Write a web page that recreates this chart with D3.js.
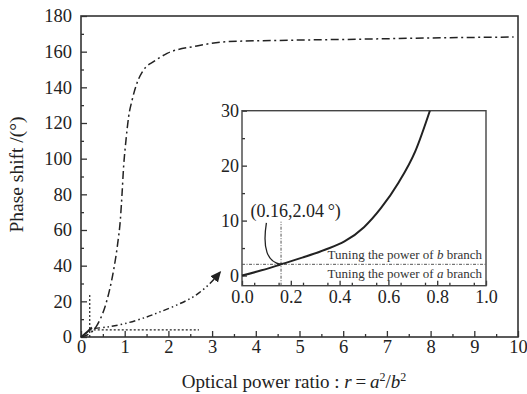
<!DOCTYPE html>
<html lang="en">
<head>
<meta charset="UTF-8">
<title>Phase shift vs optical power ratio</title>
<script src="https://d3js.org/d3.v7.min.js"></script>
<style>
    body { margin: 0; background: #fff; }
    svg { display: block; }
    svg text { font-family: "Liberation Serif", "Times New Roman", serif; }
    .axis text { fill: #222; }
    .axis line { stroke: #333; }
</style>
</head>
<body>
<svg id="vis" width="527" height="394"></svg>
<script>
    // main curve (dash-dot): phase shift against r
    const mainR     = [0, 0.2, 0.34, 0.44, 0.55, 0.65, 0.75, 0.84, 0.9, 0.94, 0.975, 1.03, 1.09, 1.17, 1.28, 1.43, 1.66, 1.97, 2.65, 3.34, 4.5, 6.4, 8, 9.9];
    const mainPhase = [0, 2, 5.5, 10, 17, 26, 38, 52.5, 65.6, 80.6, 95.5, 110.5, 123.5, 132.9, 142.3, 149.7, 154.4, 159, 163.2, 165.6, 166.3, 167, 167.7, 168.2];

    // inset curve (solid), zoom on 0..1
    const insetR     = [0, 0.08, 0.16, 0.25, 0.34, 0.42, 0.5, 0.57, 0.64, 0.71, 0.77];
    const insetPhase = [0, 0.95, 2.04, 3.3, 4.7, 6.2, 8.8, 12.3, 16.8, 22.6, 30];

    // magnification arrow (dash-dot-dot), in main axis units
    const arrowR     = [0.3, 0.6, 1.0, 1.5, 1.8, 2.2, 2.6, 2.95, 3.19];
    const arrowPhase = [4.8, 5.6, 7.5, 11.2, 14, 18, 23, 30, 36.6];

    // zoom box (dotted) in main axis units
    const boxR = [0.2, 2.7];
    const boxPhase = [4, 24];

    // working point
    const pointR = 0.16, pointPhase = 2.04;

    const mainXTicks = d3.range(0, 11, 1);
    const mainYTicks = d3.range(0, 181, 20);
    const insetXTicks = [0, 0.2, 0.4, 0.6, 0.8, 1.0];
    const insetYTicks = [0, 10, 20, 30];

    const svg = d3.select("#vis");
    const ink = "#222";
    const serif = "'Liberation Serif', 'Times New Roman', serif";

    const x = d3.scaleLinear([0, 10], [81, 518]);
    const y = d3.scaleLinear([0, 180], [337, 16]);

    const ix = d3.scaleLinear([0, 1], [242, 486]);
    const iy = d3.scaleLinear([-1.85, 30], [285.7, 110.7]);

    svg.append("defs").append("marker")
        .attr("id", "head")
        .attr("markerUnits", "userSpaceOnUse")
        .attr("viewBox", "0 -5 10 10")
        .attr("refX", 9).attr("refY", 0)
        .attr("markerWidth", 11).attr("markerHeight", 11)
        .attr("orient", "auto")
        .append("path")
        .attr("d", "M0,-4.5L10,0L0,4.5Z")
        .attr("fill", ink);

    // ---------- main axes ----------
    function styleAxis(g) {
        g.select(".domain").remove();
        g.attr("class", "axis").attr("font-family", serif).attr("font-size", null);
        g.selectAll("line").attr("stroke-width", 1.3);
        g.selectAll("text").attr("font-family", serif);
    }

    svg.append("g").attr("transform", `translate(0,${y(0)})`)
        .call(d3.axisBottom(x).tickValues(d3.range(0.5, 10, 1)).tickSize(-3).tickFormat(""))
        .call(styleAxis);
    svg.append("g").attr("transform", `translate(0,${y(0)})`)
        .call(d3.axisBottom(x).tickValues(mainXTicks).tickSize(-6).tickPadding(3).tickFormat(d3.format("d")))
        .call(styleAxis)
        .selectAll("text").attr("font-size", 18.5);

    svg.append("g").attr("transform", `translate(${x(0)},0)`)
        .call(d3.axisLeft(y).tickValues(d3.range(10, 180, 20)).tickSize(-3).tickFormat(""))
        .call(styleAxis);
    svg.append("g").attr("transform", `translate(${x(0)},0)`)
        .call(d3.axisLeft(y).tickValues(mainYTicks).tickSize(-6).tickPadding(9).tickFormat(d3.format("d")))
        .call(styleAxis)
        .selectAll("text").attr("font-size", 18.5);

    svg.append("rect")
        .attr("x", x(0)).attr("y", y(180))
        .attr("width", x(10) - x(0)).attr("height", y(0) - y(180))
        .attr("fill", "none").attr("stroke", "#333").attr("stroke-width", 1.6);

    // axis titles
    svg.append("text")
        .attr("transform", `translate(23,${(y(0) + y(180)) / 2 - 2}) rotate(-90)`)
        .attr("text-anchor", "middle")
        .attr("font-size", 19.5)
        .attr("fill", ink)
        .text("Phase shift /(°)");

    const xt = svg.append("text")
        .attr("x", 294).attr("y", 388)
        .attr("text-anchor", "middle")
        .attr("font-size", 19)
        .attr("fill", ink);
    xt.append("tspan").text("Optical power ratio : ");
    xt.append("tspan").attr("font-style", "italic").text("r");
    xt.append("tspan").text("\u2009=\u2009");
    xt.append("tspan").attr("font-style", "italic").text("a");
    xt.append("tspan").attr("font-size", 12).attr("dy", -7).text("2");
    xt.append("tspan").attr("dy", 7).text("/");
    xt.append("tspan").attr("font-style", "italic").text("b");
    xt.append("tspan").attr("font-size", 12).attr("dy", -7).text("2");

    // ---------- main marks ----------
    const line = d3.line().curve(d3.curveMonotoneX);

    svg.append("path")
        .attr("d", line(mainR.map((r, i) => [x(r), y(mainPhase[i])])))
        .attr("fill", "none").attr("stroke", ink).attr("stroke-width", 1.5)
        .attr("stroke-dasharray", "8,3.5,2,3.5");

    svg.append("path")
        .attr("d", line(insetR.filter(r => r <= 0.25).map((r, i) => [x(r), y(insetPhase[i] * 1.6)])))
        .attr("fill", "none").attr("stroke", ink).attr("stroke-width", 2);

    // dotted zoom box
    svg.append("path")
        .attr("d", `M${x(boxR[0])},${y(0)}V${y(boxPhase[1])}M${x(boxR[0])},${y(boxPhase[0])}H${x(boxR[1])}`)
        .attr("fill", "none").attr("stroke", ink).attr("stroke-width", 1.2)
        .attr("stroke-dasharray", "2,2");

    // magnification arrow
    svg.append("path")
        .attr("d", d3.line().curve(d3.curveCatmullRom)(arrowR.map((r, i) => [x(r), y(arrowPhase[i])])))
        .attr("fill", "none").attr("stroke", ink).attr("stroke-width", 1.5)
        .attr("stroke-dasharray", "6,3,1.5,3,1.5,3")
        .attr("marker-end", "url(#head)");

    // ---------- inset ----------
    const inset = svg.append("g");
    inset.append("rect")
        .attr("x", ix(0)).attr("y", iy(30))
        .attr("width", ix(1) - ix(0)).attr("height", iy(-1.85) - iy(30))
        .attr("fill", "#fff");

    inset.append("g").attr("transform", `translate(0,${iy(-1.85)})`)
        .call(d3.axisBottom(ix).tickValues(d3.range(0.05, 1, 0.1)).tickSize(-3).tickFormat(""))
        .call(styleAxis);
    inset.append("g").attr("transform", `translate(0,${iy(-1.85)})`)
        .call(d3.axisBottom(ix).tickValues(insetXTicks).tickSize(-5).tickPadding(5).tickFormat(d3.format(".1f")))
        .call(styleAxis)
        .selectAll("text").attr("font-size", 18);

    inset.append("g").attr("transform", `translate(${ix(0)},0)`)
        .call(d3.axisLeft(iy).tickValues([5, 15, 25]).tickSize(-3).tickFormat(""))
        .call(styleAxis);
    inset.append("g").attr("transform", `translate(${ix(0)},0)`)
        .call(d3.axisLeft(iy).tickValues(insetYTicks).tickSize(-5).tickPadding(3).tickFormat(d3.format("d")))
        .call(styleAxis)
        .selectAll("text").attr("font-size", 18);

    inset.append("rect")
        .attr("x", ix(0)).attr("y", iy(30))
        .attr("width", ix(1) - ix(0)).attr("height", iy(-1.85) - iy(30))
        .attr("fill", "none").attr("stroke", "#444").attr("stroke-width", 1.4);

    // working-point guides
    inset.append("path")
        .attr("d", `M${ix(0)},${iy(pointPhase)}H${ix(1)}M${ix(pointR)},${iy(-1.85)}V${iy(9.8)}`)
        .attr("fill", "none").attr("stroke", "#555").attr("stroke-width", 1)
        .attr("stroke-dasharray", "3,1.5,1,1.5");

    inset.append("path")
        .attr("d", line(insetR.map((r, i) => [ix(r), iy(insetPhase[i])])))
        .attr("fill", "none").attr("stroke", ink).attr("stroke-width", 2);

    // leader to the point
    const lp = d3.path();
    lp.moveTo(ix(0.1), iy(9.6));
    lp.quadraticCurveTo(ix(0.075), iy(2.6), ix(pointR), iy(pointPhase));
    inset.append("path").attr("d", lp.toString())
        .attr("fill", "none").attr("stroke", ink).attr("stroke-width", 1.3);

    inset.append("text")
        .attr("x", ix(0.035)).attr("y", 217)
        .attr("font-size", 18).attr("fill", ink)
        .text(`(${pointR},${pointPhase}\u2009°)`);

    const tb = inset.append("text")
        .attr("x", ix(1) - 4).attr("y", iy(pointPhase) - 5)
        .attr("text-anchor", "end").attr("font-size", 13).attr("fill", "#333");
    tb.append("tspan").text("Tuning the power of ");
    tb.append("tspan").attr("font-style", "italic").text("b");
    tb.append("tspan").text(" branch");

    const ta = inset.append("text")
        .attr("x", ix(1) - 4).attr("y", iy(pointPhase) + 14)
        .attr("text-anchor", "end").attr("font-size", 13).attr("fill", "#333");
    ta.append("tspan").text("Tuning the power of ");
    ta.append("tspan").attr("font-style", "italic").text("a");
    ta.append("tspan").text(" branch");
</script>
</body>
</html>
